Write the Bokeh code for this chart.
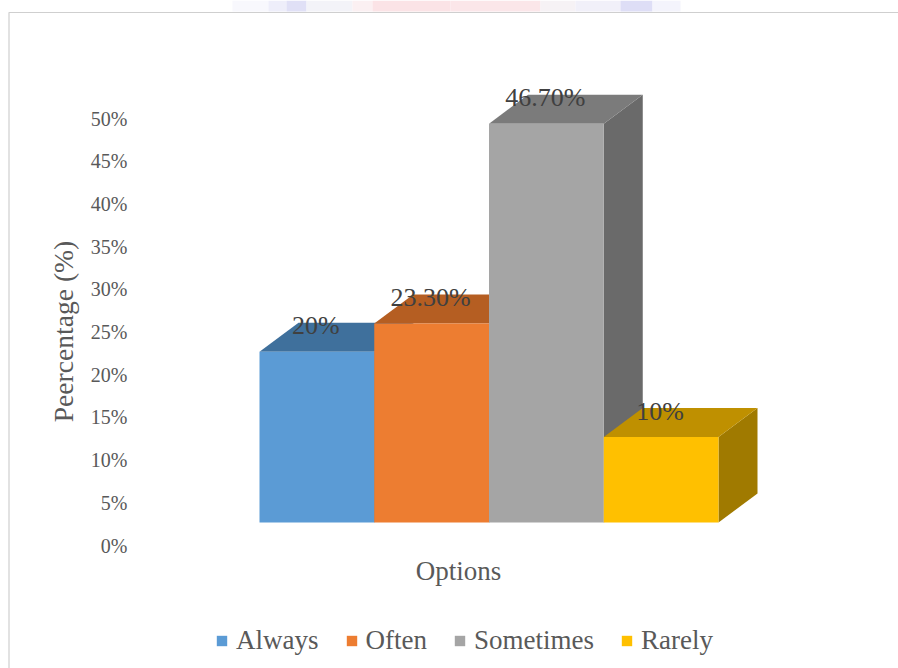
from bokeh.core.properties import value
from bokeh.embed import file_html
from bokeh.models import ColumnDataSource, FixedTicker, Legend, LegendItem, PrintfTickFormatter, Range1d
from bokeh.plotting import figure
from bokeh.resources import INLINE

# Survey responses, in percent
options = ["Always", "Often", "Sometimes", "Rarely"]
percentages = [20.0, 23.3, 46.7, 10.0]
value_labels = ["20%", "23.30%", "46.70%", "10%"]
y_ticks = [0, 5, 10, 15, 20, 25, 30, 35, 40, 45, 50]

front_colors = ["#5B9BD5", "#ED7D31", "#A5A5A5", "#FFC000"]
top_colors = ["#3F709C", "#B55E22", "#7B7B7B", "#BF9000"]
side_colors = ["#35618A", "#9A4F1D", "#6A6A6A", "#A07A00"]

WIDTH, HEIGHT = 898, 668
PX_PER_BAR = 114.75
PX_PER_PCT = 8.54

# Oblique projection of the bars, in data units
FLOOR = 23 / PX_PER_PCT
DEPTH_X = 39 / PX_PER_BAR
DEPTH_Y = 29 / PX_PER_PCT

p = figure(
    width=WIDTH, height=HEIGHT, output_backend="svg", toolbar_location=None,
    x_range=Range1d(-259 / PX_PER_BAR, (WIDTH - 259) / PX_PER_BAR),
    y_range=Range1d(-(HEIGHT - 545) / PX_PER_PCT, 545 / PX_PER_PCT),
    min_border=0, outline_line_color=None, background_fill_color="white",
    border_fill_color="white",
)
p.grid.visible = False

# Thin card outline with the coloured strip above it
to_x = lambda px: (px - 259) / PX_PER_BAR
to_y = lambda px: (545 - px) / PX_PER_PCT
strip = [(232, 268, "#F8F8FD"), (268, 286, "#EEEEFA"), (286, 306, "#E0E0F6"), (306, 352, "#F3F3F8"),
         (352, 372, "#FBF0F2"), (372, 450, "#FBE3E6"), (450, 540, "#FBE6E9"), (540, 575, "#F6F2F5"),
         (575, 620, "#F1F0F9"), (620, 652, "#DEDEF6"), (652, 680, "#F4F4FC")]
p.quad(left=[to_x(s[0]) for s in strip], right=[to_x(s[1]) for s in strip],
       top=to_y(0), bottom=to_y(11), fill_color=[s[2] for s in strip], line_color=None)
p.line([to_x(8.5), to_x(8.5), to_x(WIDTH)], [to_y(HEIGHT), to_y(12), to_y(12)], line_color="#CFCFCF", line_width=1.2)

# Faces are painted left to right so that each bar hides the side of its neighbour
fronts = []
for i, (pct, front, top, side) in enumerate(zip(percentages, front_colors, top_colors, side_colors)):
    high = FLOOR + pct
    p.patch([i + 1, i + 1 + DEPTH_X, i + 1 + DEPTH_X, i + 1],
            [FLOOR, FLOOR + DEPTH_Y, high + DEPTH_Y, high], fill_color=side, line_color=None)
    p.patch([i, i + DEPTH_X, i + 1 + DEPTH_X, i + 1],
            [high, high + DEPTH_Y, high + DEPTH_Y, high], fill_color=top, line_color=None)
    fronts.append(p.vbar(x=[i + 0.5], width=1, bottom=[FLOOR], top=[high], fill_color=front, line_color=None))

# Value labels sit on the top faces
labels = ColumnDataSource(dict(
    x=[i + 0.5 - 1 / PX_PER_BAR for i in range(len(options))],
    y=[FLOOR + pct + 26 / PX_PER_PCT for pct in percentages],
    text=value_labels,
))
p.text("x", "y", text="text", source=labels, text_align="center", text_baseline="alphabetic",
       text_font=value("Liberation Serif"), text_font_size="26px", text_color="#404040")

yaxis = p.yaxis[0]
yaxis.fixed_location = to_x(136)
yaxis.bounds = (to_y(562), to_y(100))
yaxis.ticker = FixedTicker(ticks=y_ticks)
yaxis.formatter = PrintfTickFormatter(format="%d%%")
yaxis.axis_line_color = None
yaxis.major_tick_line_color = None
yaxis.minor_tick_line_color = None
yaxis.major_label_standoff = 3
yaxis.major_label_text_font = "Liberation Serif"
yaxis.major_label_text_font_size = "20px"
yaxis.major_label_text_color = "#595959"
yaxis.axis_label = "Peercentage (%)"
yaxis.axis_label_standoff = 9
yaxis.axis_label_text_font = "Liberation Serif"
yaxis.axis_label_text_font_style = "normal"
yaxis.axis_label_text_font_size = "27.6px"
yaxis.axis_label_text_color = "#595959"

xaxis = p.xaxis[0]
xaxis.fixed_location = to_y(555)
xaxis.bounds = (to_x(100), to_x(816))
xaxis.ticker = FixedTicker(ticks=[])
xaxis.axis_line_color = None
xaxis.major_tick_line_color = None
xaxis.minor_tick_line_color = None
xaxis.axis_label = "Options"
xaxis.axis_label_standoff = 0
xaxis.axis_label_text_font = "Liberation Serif"
xaxis.axis_label_text_font_style = "normal"
xaxis.axis_label_text_font_size = "27px"
xaxis.axis_label_text_color = "#595959"

legend = Legend(
    items=[LegendItem(label=name, renderers=[bar]) for name, bar in zip(options, fronts)],
    orientation="horizontal", location=(215, 12), spacing=26, glyph_width=13, glyph_height=13,
    label_standoff=8, label_text_font="Liberation Serif", label_text_font_size="27px",
    label_text_color="#595959", border_line_color=None, background_fill_alpha=0, margin=0, padding=8,
)
p.add_layout(legend, "center")

open("out.html", "w").write(file_html(p, INLINE))
